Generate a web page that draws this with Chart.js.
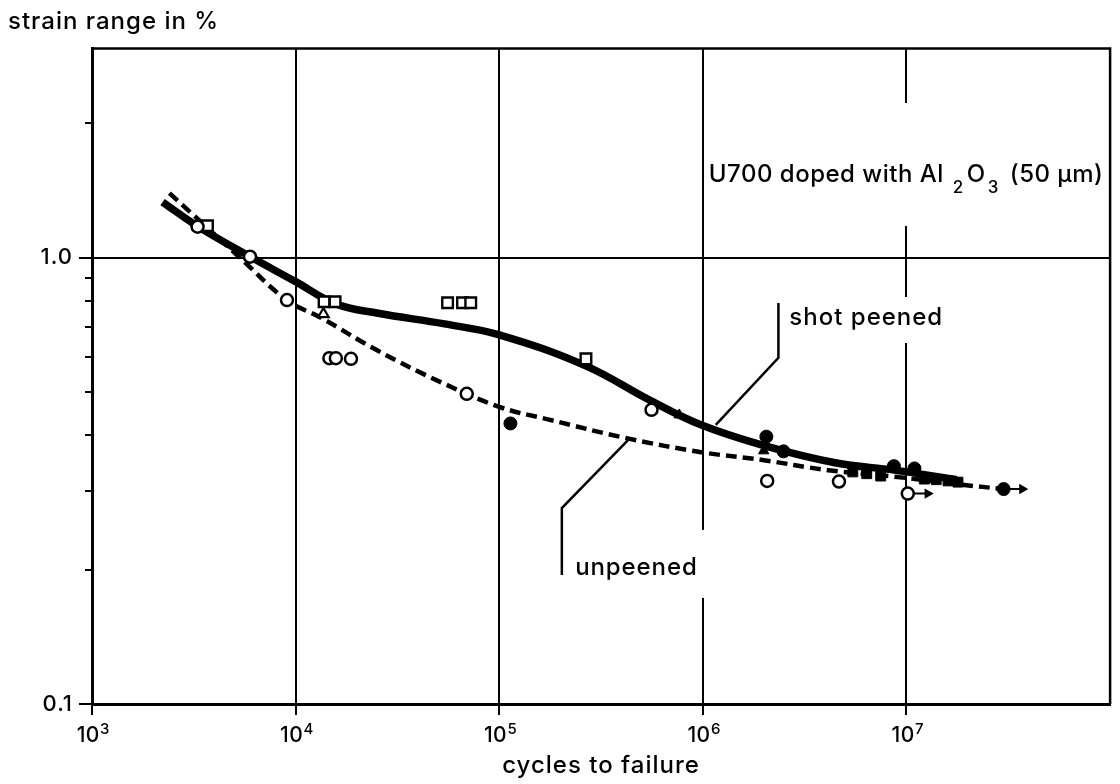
<!DOCTYPE html>
<html>
<head>
<meta charset="utf-8">
<title>U700 strain range vs cycles to failure</title>
<script src="https://cdn.jsdelivr.net/npm/chart.js@4.4.1/dist/chart.umd.min.js"></script>
<style>
  html, body { margin: 0; padding: 0; background: #fff; }
  #wrap { width: 1120px; height: 784px; }
</style>
</head>
<body>
<div id="wrap"><canvas id="chart"></canvas></div>
<script>
// axis ticks
const xTickValues = [1e3, 1e4, 1e5, 1e6, 1e7];
const xTickExponents = ['3', '4', '5', '6', '7'];
const yTickValues = [0.1, 0.2, 0.3, 0.4, 0.5, 0.6, 0.7, 0.8, 0.9, 1, 2];
const yTickLabels = ['0.1', '', '', '', '', '', '', '', '', '1.0', ''];

// fitted curves (cycles, strain range %)
const peenedCurveN = [2220, 3290, 5965, 1.0e4, 15670, 25400, 53900, 1.0e5, 266000, 545000, 978000, 1.96e6, 4.46e6, 8.74e6, 1.77e7];
const peenedCurveS = [1.331, 1.176, 1.005, 0.883, 0.788, 0.750, 0.710, 0.671, 0.572, 0.480, 0.422, 0.380, 0.347, 0.334, 0.318];
const unpeenedCurveN = [2400, 5270, 9040, 13390, 25400, 51550, 1.0e5, 177400, 421000, 1.0e6, 1.96e6, 4.12e6, 8.74e6, 1.855e7, 3.0e7];
const unpeenedCurveS = [1.394, 1.004, 0.803, 0.732, 0.618, 0.526, 0.463, 0.433, 0.394, 0.366, 0.352, 0.334, 0.323, 0.310, 0.303];

// test points
const openCircleN = [3300, 5970, 9070, 14650, 15760, 18700, 69250, 559500, 2.07e6, 4.66e6, 1.015e7];
const openCircleS = [1.172, 1.004, 0.803, 0.595, 0.595, 0.593, 0.495, 0.456, 0.316, 0.315, 0.296];
const openSquareN = [3690, 13800, 15620, 55760, 66000, 72440, 266600];
const openSquareS = [1.178, 0.796, 0.796, 0.792, 0.792, 0.792, 0.593];
const openTriangleN = [13700];
const openTriangleS = [0.747];
const filledCircleN = [113500, 2.05e6, 2.49e6, 8.67e6, 1.094e7, 3.0e7];
const filledCircleS = [0.425, 0.397, 0.368, 0.341, 0.337, 0.303];
const filledTriangleN = [766000, 1.99e6];
const filledTriangleS = [0.444, 0.369];
const filledSquareN = [5.45e6, 6.38e6, 7.47e6, 1.224e7, 1.40e7, 1.60e7, 1.79e7];
const filledSquareS = [0.331, 0.328, 0.324, 0.319, 0.318, 0.316, 0.314];

// run-outs (no failure): start and arrow tip
const runoutOpenN = [1.015e7, 1.27e7];
const runoutOpenS = [0.296, 0.296];
const runoutFilledN = [3.0e7, 3.7e7];
const runoutFilledS = [0.303, 0.303];

// leader lines from the labels to the curves
const leaderPeenedN = [1.157e6, 2.35e6, 2.35e6];
const leaderPeenedS = [0.422, 0.596, 0.791];
const leaderUnpeenedN = [429000, 203000, 203000];
const leaderUnpeenedS = [0.390, 0.2746, 0.1946];

const FONT = "Inter, 'Liberation Sans', Arial, sans-serif";
const W = '500 ';

// label anchor (left end of baseline) in data coords, white box around it in px
const labels = [
  { n: 1.07e6, s: 1.476, spacing: '0.5px', box: [-3, -79, 399, 44],
    runs: [['U700 doped with Al', 0, 0], ['2', 1, 9], ['O', 0, 3], ['3', 1, 2], [' (50 µm)', 0, 4]] },
  { n: 2.66e6, s: 0.706, spacing: '1px', box: [-7, -28, 155, 18], runs: [['shot peened', 0, 0]] },
  { n: 2.36e5, s: 0.1946, spacing: '0.9px', box: [-7, -45, 133, 23], runs: [['unpeened', 0, 0]] }
];

function pts(ns, ss) {
  return ns.map((n, i) => ({ x: n, y: ss[i] }));
}

const printLook = {
  id: 'printLook',
  beforeDraw(chart) {
    chart.ctx.letterSpacing = '1px';
  },
  beforeDatasetsDraw(chart) {
    const { ctx, chartArea: a, scales: { x, y } } = chart;
    ctx.save();
    labels.forEach(l => {
      const px = x.getPixelForValue(l.n), py = y.getPixelForValue(l.s);
      ctx.fillStyle = '#fff';
      ctx.fillRect(px + l.box[0], py + l.box[1], l.box[2] - l.box[0], l.box[3] - l.box[1]);
    });
    // closing frame, top and right
    ctx.strokeStyle = '#000';
    ctx.lineWidth = 2.5;
    ctx.beginPath();
    ctx.moveTo(a.left, a.top);
    ctx.lineTo(a.right, a.top);
    ctx.lineTo(a.right, a.bottom);
    ctx.stroke();

    ctx.fillStyle = '#000';
    ctx.textBaseline = 'alphabetic';
    ctx.textAlign = 'left';
    labels.forEach(l => {
      let cx = x.getPixelForValue(l.n);
      const by = y.getPixelForValue(l.s);
      ctx.letterSpacing = l.spacing;
      l.runs.forEach(([t, sub, gap]) => {
        ctx.font = W + (sub ? '17px ' : '24px ') + FONT;
        cx += gap;
        ctx.fillText(t, cx, by + (sub ? 11 : 0));
        cx += ctx.measureText(t).width;
      });
    });

    // x tick labels as 10 with a raised exponent
    ctx.letterSpacing = '0.3px';
    xTickValues.forEach((v, i) => {
      const px = x.getPixelForValue(v);
      ctx.font = W + '21px ' + FONT;
      const w1 = ctx.measureText('10').width;
      ctx.font = W + '15px ' + FONT;
      const w2 = ctx.measureText(xTickExponents[i]).width;
      const sx = px - (w1 + w2) / 2 + 1;
      ctx.font = W + '21px ' + FONT;
      ctx.fillText('10', sx, a.bottom + 38);
      ctx.font = W + '15px ' + FONT;
      ctx.fillText(xTickExponents[i], sx + w1 + 0.5, a.bottom + 30);
    });
    ctx.restore();
  }
};

const black = '#000';

new Chart(document.getElementById('chart'), {
  type: 'scatter',
  data: {
    datasets: [
      { label: 'unpeened', data: pts(openCircleN, openCircleS), pointStyle: 'circle', pointRadius: 6,
        borderColor: black, backgroundColor: '#fff', borderWidth: 2.5, order: 0 },
      { label: 'shot peened', data: pts(openSquareN, openSquareS), pointStyle: 'rect', pointRadius: 7.5,
        borderColor: black, backgroundColor: '#fff', borderWidth: 2.4, order: 0 },
      { label: 'open triangle', data: pts(openTriangleN, openTriangleS), pointStyle: 'triangle', pointRadius: 6,
        borderColor: black, backgroundColor: '#fff', borderWidth: 2.2, order: 0 },
      { label: 'filled circle', data: pts(filledCircleN, filledCircleS), pointStyle: 'circle', pointRadius: 6.5,
        borderColor: black, backgroundColor: black, borderWidth: 1, order: 0 },
      { label: 'filled triangle', data: pts(filledTriangleN, filledTriangleS), pointStyle: 'triangle', pointRadius: 6,
        borderColor: black, backgroundColor: black, borderWidth: 1, order: 0 },
      { label: 'filled square', data: pts(filledSquareN, filledSquareS), pointStyle: 'rect', pointRadius: 7,
        borderColor: black, backgroundColor: black, borderWidth: 1, order: 0 },
      { label: 'runout open', data: pts(runoutOpenN, runoutOpenS), showLine: true, borderColor: black, borderWidth: 2,
        pointStyle: 'triangle', rotation: 90, pointRadius: [0, 4], backgroundColor: black, order: 1 },
      { label: 'runout filled', data: pts(runoutFilledN, runoutFilledS), showLine: true, borderColor: black, borderWidth: 2,
        pointStyle: 'triangle', rotation: 90, pointRadius: [0, 4], backgroundColor: black, order: 1 },
      { label: 'shot peened curve', data: pts(peenedCurveN, peenedCurveS), showLine: true, pointRadius: 0,
        borderColor: black, borderWidth: 7.5, tension: 0.4, borderCapStyle: 'butt', order: 2 },
      { label: 'unpeened curve', data: pts(unpeenedCurveN, unpeenedCurveS), showLine: true, pointRadius: 0,
        borderColor: black, borderWidth: 4.5, borderDash: [11, 6], tension: 0.4, order: 2 },
      { label: 'leader peened', data: pts(leaderPeenedN, leaderPeenedS), showLine: true, pointRadius: 0,
        borderColor: black, borderWidth: 2.5, tension: 0, order: 3 },
      { label: 'leader unpeened', data: pts(leaderUnpeenedN, leaderUnpeenedS), showLine: true, pointRadius: 0,
        borderColor: black, borderWidth: 2.5, tension: 0, order: 3 }
    ]
  },
  options: {
    responsive: true,
    maintainAspectRatio: false,
    devicePixelRatio: 1,
    animation: false,
    events: [],
    layout: { padding: { left: 8, right: 3, top: 0, bottom: 0 } },
    plugins: {
      legend: { display: false },
      tooltip: { enabled: false },
      title: {
        display: true,
        text: 'strain range in %',
        align: 'start',
        color: black,
        font: { family: FONT, size: 24, weight: 500 },
        padding: { top: 7, bottom: 12.6 }
      }
    },
    scales: {
      x: {
        type: 'logarithmic',
        position: 'bottom',
        min: 1e3,
        max: 1e8,
        afterBuildTicks: s => { s.ticks = xTickValues.map(v => ({ value: v })); },
        afterFit: s => { s.height = 80; },
        ticks: { display: false },
        grid: { color: black, lineWidth: 2, tickLength: 11, tickWidth: 2, tickColor: black },
        border: { color: black, width: 3 },
        title: {
          display: true,
          text: 'cycles to failure',
          color: black,
          font: { family: FONT, size: 24, weight: 500 },
          padding: { top: 0, bottom: 4 }
        }
      },
      y: {
        type: 'logarithmic',
        position: 'left',
        min: 0.1,
        max: 2.94,
        afterBuildTicks: s => { s.ticks = yTickValues.map(v => ({ value: v })); },
        afterFit: s => { s.width = 84; },
        ticks: {
          autoSkip: false,
          padding: 6,
          color: black,
          font: { family: FONT, size: 22, weight: 500 },
          callback: v => yTickLabels[yTickValues.indexOf(v)]
        },
        grid: {
          color: c => (c.tick && c.tick.value === 1 ? black : 'rgba(0,0,0,0)'),
          lineWidth: 2,
          tickLength: 13,
          tickWidth: 2,
          tickColor: black,
          tickBorderDash: c => (c.tick && (c.tick.value === 1 || c.tick.value === 0.1) ? [] : [0, 6, 7, 20])
        },
        border: { color: black, width: 3 }
      }
    }
  },
  plugins: [printLook]
});
</script>
</body>
</html>
